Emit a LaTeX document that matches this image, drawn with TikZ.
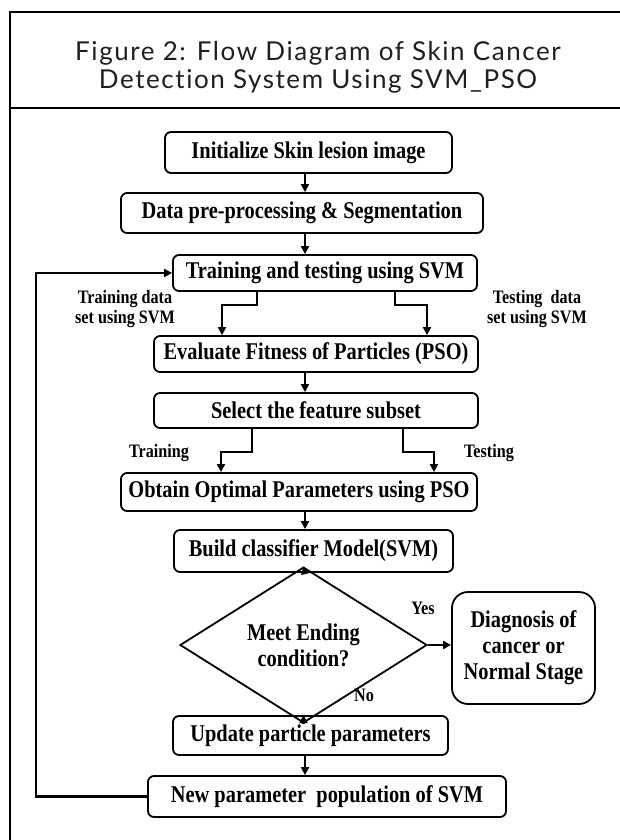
\documentclass[tikz,border=0pt]{standalone}
\usepackage{fontspec}
\setmainfont{Liberation Serif}
\newfontfamily\titlefont[LetterSpace=6,Ligatures={NoCommon,NoRequired,NoContextual}]{Lato}
\newfontfamily\flowfont[FakeStretch=0.85]{Liberation Serif}
\usetikzlibrary{arrows.meta,shapes.geometric}

\newcommand{\boxtext}{\flowfont\bfseries\fontsize{24}{26}\selectfont}
\newcommand{\lbltext}{\flowfont\bfseries\fontsize{19}{20}\selectfont}

\begin{document}
\begin{tikzpicture}[x=1pt,y=-1pt,
  box/.style={draw, line width=1.8pt, rounded corners=6pt, font=\boxtext,
              inner sep=0pt, align=center},
  decision/.style={draw, diamond, line width=1.8pt, font=\boxtext,
              inner sep=0pt, align=center},
  flow/.style={line width=2.6pt, -{Triangle[length=8pt,width=8pt]}},
  lbl/.style={font=\lbltext, align=center, inner sep=0pt}
]
\useasboundingbox (0,0) rectangle (620,840);
\clip (0,0) rectangle (620,840);

% outer frame and title cell
\draw[line width=2pt] (10,12) rectangle (650,870);
\draw[line width=2pt] (10,108) -- (650,108);
\node[font=\titlefont\fontsize{26}{28}\selectfont, text=black!88, align=center, inner sep=0pt]
  (title) at (318,67) {Figure 2: Flow Diagram of Skin Cancer\\Detection System Using SVM\_PSO};

% process steps
\node[box, minimum width=287, minimum height=41] (init)   at (308.5,152.5) {Initialize Skin lesion image};
\node[box, minimum width=362, minimum height=40] (data)   at (302,213)     {Data pre-processing \& Segmentation};
\node[box, minimum width=304, minimum height=36] (train)  at (325,273)     {Training and testing using SVM};
\node[box, minimum width=324, minimum height=36] (eval)   at (316,354)     {Evaluate Fitness of Particles (PSO)};
\node[box, minimum width=324, minimum height=35] (select) at (316,410.5)   {Select the feature subset};
\node[box, minimum width=356, minimum height=38] (obtain) at (299,492)     {Obtain Optimal Parameters using PSO};
\node[box, minimum width=279, minimum height=42] (build)  at (313.5,551)   {Build classifier Model(SVM)};
\node[decision, minimum width=247, minimum height=104] (dec) at (303.5,645) {Meet Ending\\condition?};
\node[box, rounded corners=16pt, minimum width=143, minimum height=112] (diag) at (523.5,648)
  {Diagnosis of\\cancer or\\Normal Stage};
\node[box, minimum width=275, minimum height=39] (update) at (310.5,735.5) {Update particle parameters};
\node[box, minimum width=358, minimum height=41] (new)    at (327,796.5)   {New parameter\ \ population of SVM};

% main vertical axis and loop-back column
\coordinate (axis) at (305,0);
\coordinate (fb) at (36,0);

\draw[flow] (init.south -| axis)   -- (data.north -| axis);
\draw[flow] (data.south -| axis)   -- (train.north -| axis);
\draw[flow] (eval.south -| axis)   -- (select.north -| axis);
\draw[flow] (obtain.south -| axis) -- (build.north -| axis);
\draw[flow] (build.south -| axis)  -- (dec.north);
\draw[flow] (dec.south)            -- (update.north -| dec.south);
\draw[flow] (update.south -| axis) -- (new.north -| axis);
\draw[flow] (dec.east) -- (dec.east -| diag.west);

% split branches
\coordinate (t1) at (257,305); \coordinate (t2) at (222,305);
\coordinate (t3) at (395,305); \coordinate (t4) at (427,305);
\draw[flow] (train.south -| t1) -- (t1) -- (t2) -- (eval.north -| t2);
\draw[flow] (train.south -| t3) -- (t3) -- (t4) -- (eval.north -| t4);

\coordinate (s1) at (252,452); \coordinate (s2) at (221,452);
\coordinate (s3) at (403,452); \coordinate (s4) at (434,452);
\draw[flow] (select.south -| s1) -- (s1) -- (s2) -- (obtain.north -| s2);
\draw[flow] (select.south -| s3) -- (s3) -- (s4) -- (obtain.north -| s4);

% loop back
\draw[flow] (new.west) -- (new.west -| fb) |- (train.west);

% labels
\node[lbl] (ltrain) at (125,309) {Training data\\set using SVM};
\node[lbl] (ltest)  at (537,309) {Testing\ \ data\\set using SVM};
\node[lbl] (ltr2)   at (159,453) {Training};
\node[lbl] (lte2)   at (489,453) {Testing};
\node[lbl] (lyes)   at (423,608) {Yes};
\node[lbl] (lno)    at (364,695) {No};
\end{tikzpicture}
\end{document}
